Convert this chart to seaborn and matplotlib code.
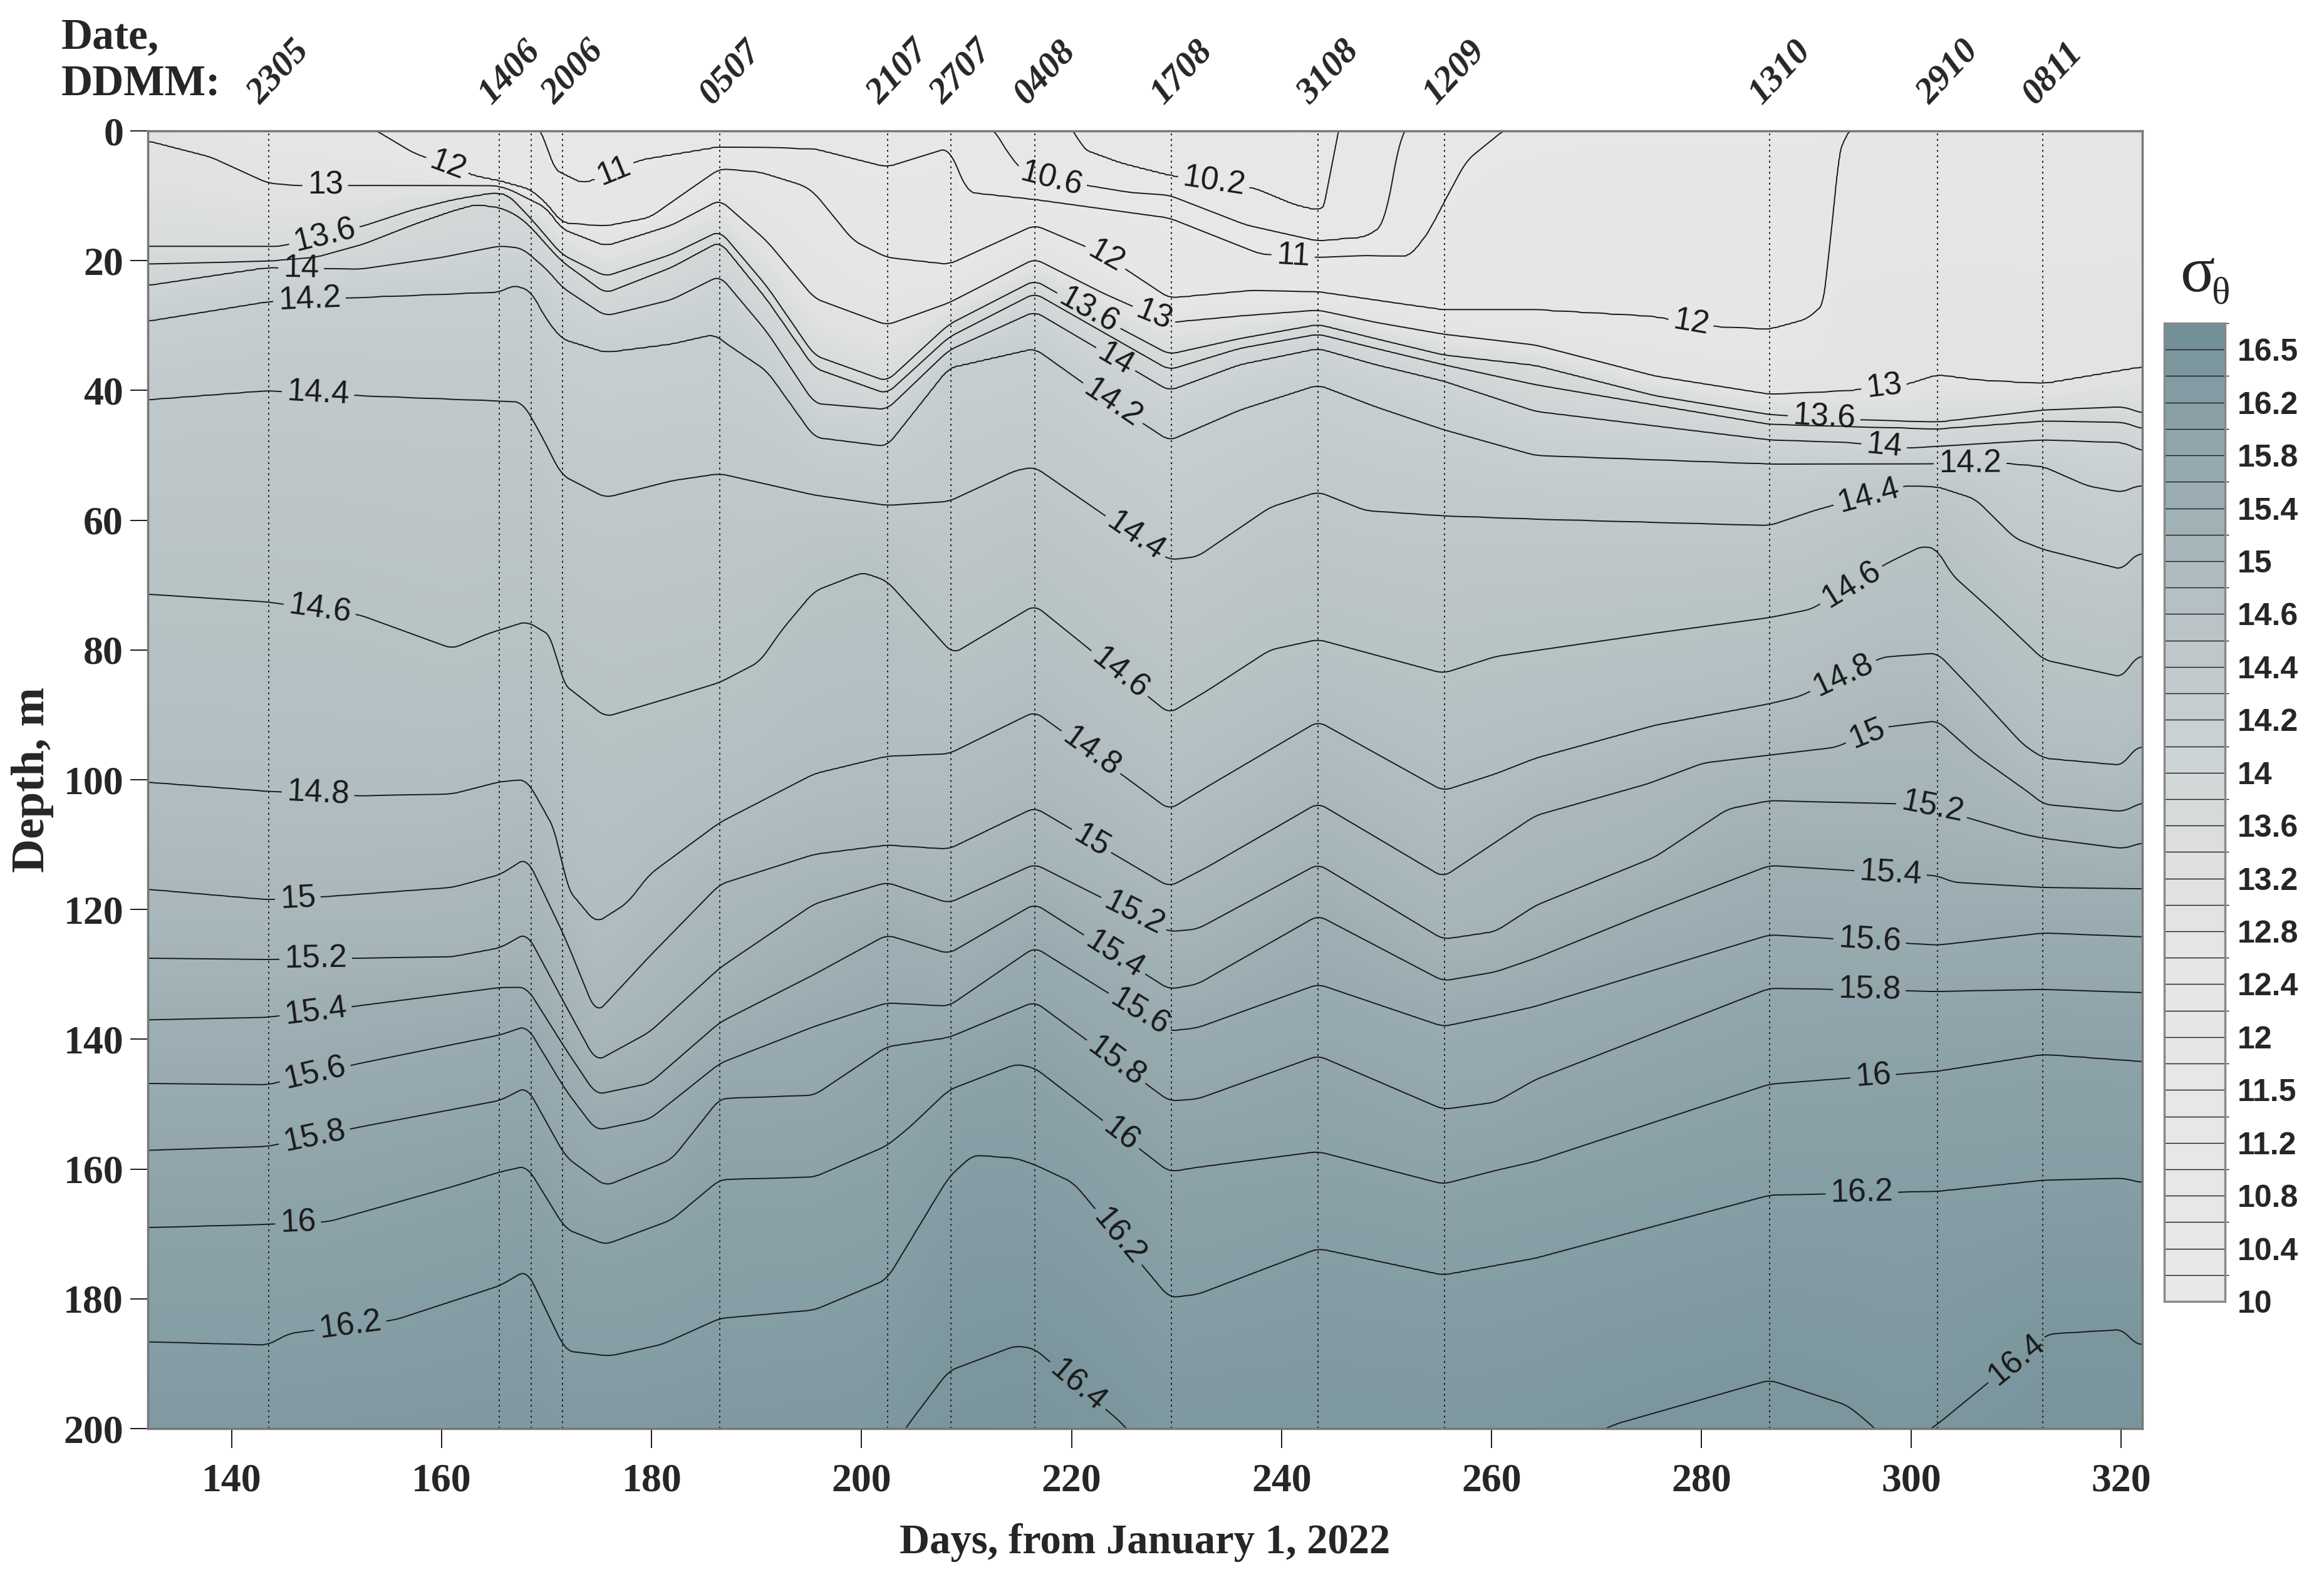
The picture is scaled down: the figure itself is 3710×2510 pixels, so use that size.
import numpy as np
import matplotlib
matplotlib.use("Agg")
import matplotlib.pyplot as plt
import matplotlib.transforms as mtransforms
from matplotlib.colors import LinearSegmentedColormap, ListedColormap, BoundaryNorm
from matplotlib.cm import ScalarMappable
import seaborn as sns

# station days (vertical dotted lines) and their DDMM labels
station_days = [143.5, 165.5, 168.5, 171.5, 186.5, 202.5, 208.5, 216.5,
                229.5, 243.5, 255.5, 286.5, 302.5, 312.5]
station_labels = ["2305", "1406", "", "2006", "0507", "2107", "2707", "0408",
                  "1708", "3108", "1209", "1310", "2910", "0811"]

# isopycnal depths (day, depth m)
iso_10_2 = [(132, -20), (215, -6), (220.2, -0.3), (221, 2.8), (224.7, 5.0), (229.3, 6.9),
            (237.5, 8.9), (241.2, 11.4), (243.5, 12.3), (244.6, 11.3), (244.8, 4.6),
            (245.0, -0.3), (250, -5), (322, -15)]
iso_10_6 = [(132, -15), (200, -8), (210, -2), (212.6, -0.3), (214, 3.6), (215.5, 6.5),
            (216.5, 7.1), (225.6, 9.5), (229.3, 9.9), (236.6, 14.5), (243.5, 17.0),
            (248, 16.4), (249.8, 14.5), (250.3, 10.2), (251.4, -0.3), (260, -5), (322, -10)]
iso_11 = [(132, -12), (160, -6), (169.6, -0.3), (170.5, 5.8), (173.5, 8.2), (179, 4.5),
          (186.5, 2.5), (195.5, 2.8), (202.4, 5.6), (208.3, 2.6), (210.1, 9.5), (216.5, 10.6),
          (229.3, 13.4), (238, 19.0), (243.5, 19.5), (248, 19.2), (252.2, 19.4), (254, 15.7),
          (255.4, 11.3), (257.6, 4.6), (260.4, 0.9), (261.3, -0.3), (270, -4), (322, -6)]
iso_12 = [(132, -10), (143.5, -4), (150, -1.5), (153.5, -0.3), (157.3, 3.4), (163.2, 7.0),
          (165.6, 7.8), (168.5, 9.1), (170.2, 11.6), (171.4, 14.2), (175.6, 14.7), (179.8, 13.4),
          (184, 8.6), (186.5, 5.8), (190.3, 6.3), (194.5, 8.4), (195.5, 9.5), (199.2, 16.9),
          (202.4, 19.5), (208.3, 20.6), (216.5, 14.5), (222.9, 18.9), (229.3, 25.8),
          (237.1, 24.6), (243.5, 24.8), (255.4, 27.6), (264.2, 27.6), (275.2, 28.6),
          (281.3, 30.2), (286.5, 30.6), (290.1, 29.0), (292.0, 26.2), (292.4, 16.1),
          (292.6, 5.9), (293.9, -0.3), (300, -3), (322, -5)]
iso_13 = [(132, 1.5), (138, 4.0), (143.4, 8.0), (146, 8.4), (165.2, 8.4), (166.5, 9.0),
          (168.1, 10.3), (170, 11.8), (171.4, 15.0), (175.6, 17.7), (181.9, 14.5), (186.5, 10.6),
          (191, 17.0), (195.5, 25.8), (202.4, 29.9), (208.3, 26.5), (216.5, 19.7), (223, 25.0),
          (229.3, 29.5), (236, 28.5), (243.5, 27.6), (249, 29.5), (255.4, 31.3), (264.2, 33.0),
          (275.6, 37.8), (286.5, 40.6), (293.9, 40.1), (299.6, 39.1), (302.5, 37.6),
          (306.1, 38.4), (312.6, 39.0), (322, 36.4)]
iso_13_6 = [(132, 17.8), (144.6, 17.8), (152.6, 14.6), (157.3, 12.1), (161, 10.6), (165.2, 9.4),
            (166.4, 9.9), (168.5, 13.5), (171.4, 19.0), (175.6, 22.4), (181.9, 19.0),
            (186.5, 15.4), (191, 24.0), (195.5, 34.6), (202.4, 38.6), (208.3, 29.8),
            (216.5, 23.0), (223, 29.0), (229.3, 34.4), (236, 32.0), (243.5, 29.8), (249, 32.0),
            (255.4, 34.5), (264.2, 36.1), (275.6, 40.8), (286.5, 43.7), (294.7, 44.5),
            (302.5, 44.9), (312.6, 43.0), (320.2, 42.5), (322, 43.5)]
iso_13_8 = [(132, 20.5), (143.4, 20.1), (148, 19.5), (152.6, 17.4), (157.3, 14.4), (161, 12.3),
            (163.2, 11.3), (165.6, 11.8), (167.3, 13.1), (168.5, 14.8), (170.2, 17.9),
            (171.4, 20.0), (175.6, 25.0), (181.9, 21.0), (186.5, 17.0), (191, 26.0),
            (195.5, 36.5), (202.4, 40.5), (208.3, 31.8), (216.5, 25.0), (223, 31.0),
            (229.3, 36.8), (236, 33.5), (243.5, 31.3), (249, 33.5), (255.4, 36.0),
            (264.2, 39.1), (286.5, 45.2), (302.5, 45.9), (312.6, 44.7), (320.2, 44.9), (322, 45.9)]
iso_14 = [(132, 23.8), (143.4, 21.0), (152.2, 21.3), (160, 19.5), (165.6, 17.7), (167.7, 18.1),
          (170.2, 21.6), (171.4, 24.0), (175.6, 28.5), (181.9, 26.0), (186.5, 22.3), (191, 31.0),
          (195.5, 42.0), (202.4, 42.9), (208.3, 33.8), (216.5, 27.8), (223, 34.0), (229.3, 40.0),
          (236, 36.0), (243.5, 33.5), (249, 36.0), (255.4, 38.5), (264.2, 43.2), (286.5, 47.6),
          (293.9, 48.0), (299.6, 48.9), (312.6, 47.6), (320.2, 48.0), (322, 49.3)]
iso_14_2 = [(132, 29.3), (143.4, 26.3), (152.6, 25.6), (165.6, 24.8), (166.8, 23.7),
            (168.5, 24.6), (169.8, 28.6), (171.4, 32.0), (175.6, 34.1), (181.9, 32.8),
            (186, 31.3), (186.8, 32.4), (191, 37.0), (195.5, 47.2), (202.4, 48.6), (208.3, 36.5),
            (216.5, 33.5), (223, 41.0), (229.3, 47.7), (236, 43.0), (243.5, 39.1), (249, 42.5),
            (255.4, 46.0), (264.2, 50.0), (286.5, 51.3), (300.8, 51.3), (309.1, 51.2),
            (312.6, 51.7), (316.8, 54.7), (320.2, 55.7), (321.3, 54.7), (322, 54.7)]
iso_14_4 = [(132, 41.4), (143.4, 40.0), (152.6, 40.8), (165.6, 41.6), (167.7, 41.8),
            (169.4, 46.6), (171.4, 53.0), (175.6, 56.5), (181.9, 53.9), (186.5, 52.8),
            (195.5, 56.1), (202.4, 57.7), (208.3, 57.1), (214.7, 52.3), (216.5, 51.8),
            (229.3, 66.1), (232, 65.6), (238.9, 58.0), (243.5, 55.6), (248, 58.5), (255.4, 59.3),
            (264.2, 59.8), (286.5, 60.8), (290.9, 58.4), (299.2, 54.7), (302.5, 54.8),
            (306.1, 56.7), (309.9, 62.8), (312.6, 64.5), (320.2, 67.6), (321.3, 65.2), (322, 65.2)]
iso_14_6 = [(132, 71.4), (143.4, 72.6), (152.2, 74.6), (161, 79.8), (164.4, 77.5), (168.1, 75.6),
            (170.6, 78.0), (171.4, 85.0), (175.6, 90.3), (181.9, 87.3), (186.5, 85.0),
            (190.3, 81.8), (192.4, 76.9), (195.5, 70.9), (200.1, 68.0), (202.4, 69.3),
            (208.7, 80.6), (216.5, 73.1), (229.3, 89.8), (233, 86.2), (238.9, 80.0),
            (243.5, 78.4), (255.4, 83.6), (260.4, 81.0), (264.2, 80.1), (275.6, 77.4),
            (286.5, 75.0), (290.5, 73.7), (297.7, 66.6), (301.1, 63.9), (302.5, 64.5),
            (303.8, 68.3), (308, 74.4), (312.6, 81.5), (320.2, 84.2), (321.3, 81.1), (322, 81.0)]
iso_14_8 = [(132, 100.4), (143.4, 101.8), (152.2, 102.5), (161, 102.2), (165.6, 100.3),
            (168.1, 100.0), (171, 108.4), (171.8, 116.5), (174.7, 122.1), (177.7, 119.0),
            (179.8, 114.6), (186.5, 106.6), (195.5, 99.1), (202.4, 96.4), (208.3, 96.0),
            (216.5, 89.5), (224.7, 99.1), (229.3, 104.6), (233, 101.0), (243.5, 91.0),
            (255.4, 101.7), (260.4, 99.1), (264.2, 96.7), (275.6, 91.6), (286.5, 88.3),
            (289.3, 87.2), (297.3, 81.1), (302.5, 80.5), (306.1, 86.6), (310.7, 94.7),
            (312.6, 96.7), (320.2, 97.8), (321.3, 95.0), (322, 95.0)]
iso_15 = [(132, 116.9), (143.4, 118.5), (149.2, 118.0), (161, 116.6), (165.6, 114.6),
          (168.1, 112.0), (171.8, 124.5), (174.7, 136.1), (179.8, 127.2), (186.5, 116.1),
          (195.5, 111.5), (202.4, 110.1), (208.3, 110.7), (216.5, 104.3), (229.3, 116.5),
          (233, 113.4), (243.5, 103.6), (255.4, 115.0), (260.4, 109.6), (264.2, 105.5),
          (274.9, 100.6), (280.2, 97.4), (292.8, 95.0), (297, 92.0), (302.5, 90.9),
          (306.1, 96.1), (311.4, 102.2), (312.6, 103.8), (320.2, 104.9), (322, 103.5)]
iso_15_2 = [(132, 127.5), (143.4, 127.7), (161, 127.3), (165.6, 125.9), (168.1, 123.6),
            (171.8, 134.8), (174.7, 143.4), (179.8, 138.9), (186.5, 129.0), (195.5, 119.1),
            (202.4, 115.8), (208.3, 119.0), (216.5, 113.0), (229.3, 123.4), (232, 123.0),
            (243.5, 113.0), (255.4, 124.6), (260.4, 123.4), (264.2, 119.4), (275.6, 111.9),
            (282.5, 104.5), (286.5, 103.2), (301.1, 103.8), (302.5, 104.5), (310.7, 108.4),
            (312.6, 109.0), (320.2, 110.6), (322, 109.7)]
iso_15_4 = [(132, 137.0), (143.4, 136.6), (152.2, 134.8), (165.6, 132.0), (168.1, 132.0),
            (171.8, 141.5), (174.7, 148.5), (179.8, 146.8), (186.5, 137.4), (195.5, 130.0),
            (202.4, 123.9), (208.3, 126.8), (216.5, 119.1), (229.3, 132.3), (232, 131.5),
            (243.5, 120.9), (255.4, 131.0), (260.4, 129.6), (264.2, 127.5), (275.6, 120.0),
            (286.5, 113.2), (302.5, 114.8), (304, 115.8), (312.6, 116.6), (322, 116.8)]
iso_15_6 = [(132, 146.8), (143.4, 147.0), (152.2, 143.7), (165.6, 139.3), (168.1, 137.9),
            (171.8, 147.8), (174.7, 154.0), (179.8, 152.3), (186.5, 143.7), (195.5, 138.0),
            (202.4, 134.4), (208.3, 134.9), (216.5, 125.8), (229.3, 138.7), (232, 138.2),
            (243.5, 131.5), (255.4, 138.0), (260.4, 136.3), (264.2, 134.9), (286.5, 123.9),
            (302.5, 125.5), (312.6, 123.6), (322, 124.2)]
iso_15_8 = [(132, 157.1), (143.4, 156.5), (152.2, 153.5), (165.6, 149.4), (168.1, 147.3),
            (171.8, 158.1), (175.6, 162.6), (181.9, 158.5), (186.5, 149.1), (195.5, 148.6),
            (202.4, 141.1), (208.3, 139.7), (216.5, 134.2), (229.3, 149.5), (232, 149.2),
            (243.5, 142.5), (255.4, 150.8), (260.4, 149.7), (264.2, 146.2), (286.5, 132.1),
            (302.5, 132.6), (312.6, 132.3), (322, 132.8)]
iso_16 = [(132, 169.0), (143.4, 168.5), (149.2, 168.1), (161, 162.7), (165.6, 160.4),
          (168.1, 159.5), (171.8, 169.2), (175.6, 171.6), (181.9, 167.8), (186.5, 161.6),
          (195.5, 161.2), (202.4, 156.4), (204.6, 153.5), (208.3, 147.8), (214.7, 143.8),
          (216.5, 144.4), (229.3, 160.4), (232, 159.7), (243.5, 157.3), (255.4, 162.3),
          (260.4, 160.2), (264.2, 158.8), (286.5, 146.9), (302.5, 144.9), (312.6, 142.3),
          (322, 143.4)]
iso_16_2 = [(132, 186.6), (143.4, 187.1), (145.5, 185.3), (155.6, 183.2), (165.6, 177.9),
            (168.1, 175.5), (171.8, 188.0), (176, 188.8), (181, 187.0), (186.5, 183.0),
            (195.5, 181.7), (202.4, 177.0), (208.3, 161.2), (210.6, 157.8), (214.7, 158.3),
            (216.5, 159.3), (220.2, 162.1), (229.3, 179.8), (232, 179.3), (243.5, 172.2),
            (255.4, 176.3), (264.2, 173.7), (286.5, 164.0), (302.5, 163.4), (312.6, 161.7),
            (320.2, 161.4), (322, 162.1)]
iso_16_4 = [(132, 215), (200, 210), (204.6, 199.0), (208.3, 191.1), (214.7, 187.2),
            (216.5, 187.7), (224.7, 199.0), (228, 205), (260, 208), (271.8, 199.3),
            (286.5, 192.5), (293.9, 196.4), (295.8, 198.9), (297.5, 201.5), (300.5, 201.5),
            (302.5, 199.3), (308, 192.0), (313, 185.4), (320.2, 184.7), (321.3, 187.0),
            (322, 187.0)]

line_levels = [10.2, 10.6, 11, 12, 13, 13.6, 13.8, 14, 14.2, 14.4, 14.6, 14.8,
               15, 15.2, 15.4, 15.6, 15.8, 16, 16.2, 16.4]
isopycnals = [iso_10_2, iso_10_6, iso_11, iso_12, iso_13, iso_13_6, iso_13_8, iso_14,
              iso_14_2, iso_14_4, iso_14_6, iso_14_8, iso_15, iso_15_2, iso_15_4,
              iso_15_6, iso_15_8, iso_16, iso_16_2, iso_16_4]

# colour bar classes
cbar_levels = [10, 10.2, 10.4, 10.6, 10.8, 11, 11.2, 11.35, 11.5, 11.75, 12, 12.2, 12.4,
               12.6, 12.8, 13, 13.2, 13.4, 13.6, 13.8, 14, 14.1, 14.2, 14.3, 14.4, 14.5,
               14.6, 14.8, 15, 15.2, 15.4, 15.6, 15.8, 16, 16.2, 16.35, 16.5, 16.65]
cbar_labels = ["10", "10.4", "10.8", "11.2", "11.5", "12", "12.4", "12.8", "13.2", "13.6",
               "14", "14.2", "14.4", "14.6", "15", "15.4", "15.8", "16.2", "16.5"]

# label positions (day, depth)
label_pos = [(148.9, 8.5), (160.5, 5.6), (176.4, 6.2), (148.9, 16.6), (146.6, 21.6),
             (147.4, 25.8), (148.2, 41), (148.2, 75.4), (148.2, 102.8), (146.3, 118.8),
             (148, 128), (148, 136), (148, 145.7), (148, 156.3), (146.3, 167.8),
             (151.3, 184.3), (218, 8.3), (233.5, 8.3), (223.6, 18.4), (221.9, 26.9),
             (227.9, 28), (223.6, 36.8), (224, 41.8), (241.1, 19.3), (279, 29.7),
             (226.5, 61.4), (225, 82.7), (221.5, 96.5), (222.3, 108.5), (226, 120.4),
             (224.6, 125.7), (226.4, 136), (224, 144), (224.2, 155.7), (223.6, 171.6),
             (220.3, 194), (297.4, 39.5), (291.7, 44.1), (297.4, 48.8), (305.6, 51.5),
             (296, 57), (294.5, 70.6), (293.8, 85), (296, 93.8), (301.9, 104.6),
             (298, 114.9), (296, 125.7), (296, 133.3), (296.4, 146.6), (295.3, 165),
             (310.6, 190.7)]

sns.set_theme(style="ticks")
plt.rcParams['font.family'] = ['Liberation Sans', 'DejaVu Sans']

# build the gridded section from the isopycnal depths
xf = np.linspace(132, 322, 1901)
zf = np.linspace(0, 200, 801)
D = np.array([np.interp(xf, [p[0] for p in iso], [p[1] for p in iso]) for iso in isopycnals])
k = 15
kern = np.ones(k) / k
D = np.array([np.convolve(np.pad(r, k // 2, mode='edge'), kern, mode='valid') for r in D])
for i in range(1, len(D)):
    D[i] = np.maximum(D[i], D[i - 1] + 0.05)
ext_levels = [9.8] + line_levels + [16.7]
field = np.empty((len(zf), len(xf)))
for j in range(len(xf)):
    dep = np.concatenate([[D[0, j] - 25], D[:, j], [D[-1, j] + 60]])
    field[:, j] = np.interp(zf, dep, ext_levels)

anchors = [(0, "#e8e8e8"), (12, "#e6e6e6"), (16, "#e1e2e2"), (18, "#d9dcdd"),
           (20, "#cfd5d6"), (22, "#c8cfd1"), (24, "#c0c9cc"), (26, "#b8c3c6"),
           (28, "#abb9bd"), (30, "#9fb0b5"), (32, "#93a7ad"), (34, "#869ea5"),
           (36, "#79949c"), (37, "#6f8c95")]
cmap = LinearSegmentedColormap.from_list("sig", [(a / 37, c) for a, c in anchors])
nb = len(cbar_levels) - 1
band_cmap = ListedColormap([cmap((i + 0.5) / nb) for i in range(nb)])

fig = plt.figure(figsize=(37.1, 25.1), dpi=100)
ax = fig.add_axes([0.0636, 0.0912, 0.8582, 0.8255])

ci = np.interp(field, cbar_levels, np.arange(nb + 1)) / nb
ax.imshow(ci, cmap=cmap, vmin=0, vmax=1, extent=[132, 322, 200, 0], aspect='auto',
          interpolation='bilinear', zorder=1)
cs = ax.contour(xf, zf, field, levels=line_levels, colors='#1a1a1a', linewidths=1.4, zorder=2)
txts = ax.clabel(cs, manual=label_pos, inline=True, inline_spacing=8,
                 fmt=lambda v: f"{v:g}", fontsize=37)

for d in station_days:
    ax.axvline(d, color='k', lw=1.4, ls=(0, (1.5, 3)), zorder=3)

trans = mtransforms.blended_transform_factory(ax.transData, ax.transAxes)
for d, lab in zip(station_days, station_labels):
    if lab:
        ax.text(d + 1.0, 1.016, lab, transform=trans, rotation=47, ha='center', va='bottom',
                fontsize=42, fontweight='bold', fontstyle='italic', family='Liberation Serif',
                clip_on=False)

ax.set_xlim(132, 322)
ax.set_ylim(200, 0)
ax.set_xticks(range(140, 321, 20), labels=[str(t) for t in range(140, 321, 20)],
              fontsize=46, fontweight='bold', family='Liberation Serif')
ax.set_yticks(range(0, 201, 20), labels=[str(t) for t in range(0, 201, 20)],
              fontsize=46, fontweight='bold', family='Liberation Serif')
ax.tick_params(axis='x', direction='out', length=22, width=1.4, pad=18, color='k')
ax.tick_params(axis='y', direction='out', length=20, width=1.4, pad=8, color='k')
for s in ax.spines.values():
    s.set_color('#777777')
    s.set_linewidth(2.5)
    s.set_zorder(5)

ax.set_xlabel("Days, from January 1, 2022", fontsize=48, fontweight='bold',
              family='Liberation Serif')
ax.set_ylabel("Depth, m", fontsize=54, fontweight='bold', family='Liberation Serif')
ax.xaxis.set_label_coords(0.5, -0.073)
ax.yaxis.set_label_coords(-0.047, 0.5)

fig.text(98 / 3710, 1 - 61 / 2510, "Date,", ha='left', va='center', fontsize=50,
         fontweight='bold', family='Liberation Serif')
fig.text(98 / 3710, 1 - 135 / 2510, "DDMM:", ha='left', va='center', fontsize=50,
         fontweight='bold', family='Liberation Serif')

# colour bar
cax = fig.add_axes([0.9313, 0.1721, 0.0261, 0.6223])
cb = fig.colorbar(ScalarMappable(norm=BoundaryNorm(np.arange(nb + 1), nb), cmap=band_cmap),
                  cax=cax, ticks=np.arange(0, nb, 2), drawedges=True)
cb.set_ticklabels(cbar_labels)
cb.ax.tick_params(length=0, pad=14)
for t in cb.ax.get_yticklabels():
    t.set_fontsize(36)
    t.set_fontweight('bold')
    t.set_fontfamily('Liberation Sans')
cb.outline.set_edgecolor('#888888')
cb.outline.set_linewidth(2.5)
cb.dividers.set_color('k')
cb.dividers.set_linewidth(1.0)
fig.text(3508 / 3710, 1 - 440 / 2510, "σ", ha='center', va='center', fontsize=74,
         family='Liberation Serif')
fig.text(3545 / 3710, 1 - 470 / 2510, "θ", ha='center', va='center', fontsize=44,
         family='Liberation Serif')

fig.savefig("out.png", dpi=100)
